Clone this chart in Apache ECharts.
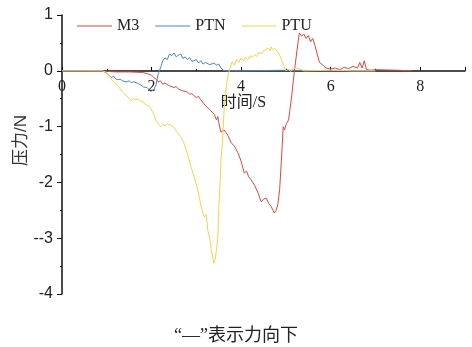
<!DOCTYPE html>
<html>
<head>
<meta charset="utf-8">
<script src="https://cdn.jsdelivr.net/npm/echarts@6/dist/echarts.min.js"></script>
<style>html,body{margin:0;padding:0;background:#fff}#c{width:472px;height:347px}</style>
</head>
<body>
<div id="c"></div>
<script>
var seriesNames = ['M3', 'PTN', 'PTU'];
var yTickLabels = ['-4', '--3', '-2', '-1', '0', '1'];
var xTickLabels = ['0', '2', '4', '6', '8'];

var m3T = [0, 0.5, 1.0, 1.2, 1.5, 1.8, 1.9, 2.0, 2.05, 2.1, 2.15, 2.2, 2.25, 2.3, 2.4, 2.5, 2.55, 2.6, 2.7, 2.8, 2.85, 2.9, 3.0, 3.05, 3.1, 3.2, 3.25, 3.3, 3.4, 3.45, 3.48, 3.5, 3.55, 3.62, 3.7, 3.78, 3.85, 3.93, 4.0, 4.07, 4.12, 4.17, 4.22, 4.3, 4.38, 4.45, 4.5, 4.56, 4.62, 4.67, 4.7, 4.74, 4.78, 4.82, 4.86, 4.9, 4.94, 4.97, 5.01, 5.06, 5.09, 5.13, 5.19, 5.23, 5.27, 5.3, 5.35, 5.4, 5.45, 5.5, 5.55, 5.6, 5.65, 5.7, 5.75, 5.8, 5.85, 5.9, 6.0, 6.1, 6.2, 6.3, 6.4, 6.5, 6.6, 6.65, 6.7, 6.75, 6.8, 6.9, 7.0, 7.5, 7.8];
var m3V = [0, 0, -0.01, -0.02, -0.02, -0.03, -0.05, -0.08, -0.12, -0.15, -0.2, -0.18, -0.24, -0.22, -0.27, -0.3, -0.28, -0.33, -0.36, -0.38, -0.42, -0.41, -0.48, -0.46, -0.52, -0.62, -0.66, -0.7, -0.78, -0.88, -0.82, -0.93, -1.1, -1.06, -1.15, -1.29, -1.35, -1.47, -1.62, -1.83, -1.8, -1.9, -1.95, -2.05, -2.19, -2.35, -2.3, -2.28, -2.38, -2.43, -2.48, -2.55, -2.5, -2.4, -2.13, -1.6, -1.0, -1.06, -0.95, -0.88, -0.7, -0.45, 0.0, 0.25, 0.5, 0.68, 0.62, 0.66, 0.58, 0.63, 0.52, 0.58, 0.45, 0.3, 0.15, 0.12, 0.08, 0.05, 0.03, 0.05, 0.02, 0.06, 0.04, 0.08, 0.05, 0.15, 0.05, 0.18, 0.02, 0.01, 0.02, 0.01, 0];

var ptnT = [0, 0.9, 1.0, 1.05, 1.1, 1.15, 1.23, 1.3, 1.35, 1.45, 1.5, 1.55, 1.6, 1.68, 1.75, 1.82, 1.9, 1.98, 2.05, 2.1, 2.15, 2.2, 2.25, 2.3, 2.35, 2.4, 2.45, 2.5, 2.55, 2.6, 2.65, 2.7, 2.75, 2.8, 2.85, 2.9, 3.0, 3.05, 3.1, 3.15, 3.2, 3.3, 3.4, 3.45, 3.5, 3.55, 3.6, 3.7, 4.0, 5.0, 6.0, 7.0];
var ptnV = [0, 0, -0.04, -0.08, -0.12, -0.1, -0.16, -0.15, -0.18, -0.2, -0.18, -0.21, -0.2, -0.22, -0.25, -0.29, -0.3, -0.37, -0.34, -0.25, -0.05, 0.05, 0.18, 0.23, 0.2, 0.3, 0.27, 0.32, 0.25, 0.28, 0.3, 0.22, 0.25, 0.2, 0.24, 0.17, 0.2, 0.14, 0.18, 0.12, 0.15, 0.11, 0.14, 0.1, 0.12, 0.05, 0.01, 0, 0, 0.01, 0, 0];

var ptuT = [0, 0.9, 1.0, 1.05, 1.1, 1.15, 1.2, 1.25, 1.3, 1.35, 1.4, 1.45, 1.5, 1.55, 1.6, 1.65, 1.7, 1.75, 1.8, 1.85, 1.9, 1.95, 2.0, 2.05, 2.09, 2.15, 2.2, 2.25, 2.3, 2.35, 2.43, 2.5, 2.58, 2.65, 2.72, 2.8, 2.88, 2.95, 3.03, 3.1, 3.15, 3.18, 3.22, 3.26, 3.3, 3.33, 3.37, 3.39, 3.42, 3.45, 3.48, 3.5, 3.53, 3.55, 3.58, 3.6, 3.62, 3.65, 3.7, 3.75, 3.8, 3.85, 3.9, 3.95, 4.0, 4.05, 4.1, 4.15, 4.2, 4.25, 4.3, 4.35, 4.4, 4.45, 4.5, 4.55, 4.6, 4.65, 4.67, 4.7, 4.75, 4.8, 4.85, 4.9, 4.95, 5.0, 5.05, 5.1, 5.2, 5.3, 5.4, 6.0, 6.5, 7.0];
var ptuV = [0, 0, -0.03, -0.08, -0.15, -0.2, -0.22, -0.28, -0.32, -0.38, -0.42, -0.45, -0.5, -0.53, -0.5, -0.52, -0.5, -0.55, -0.54, -0.6, -0.62, -0.64, -0.7, -0.78, -0.88, -0.95, -1.0, -0.96, -0.99, -0.95, -0.97, -1.02, -1.11, -1.18, -1.29, -1.48, -1.72, -1.9, -2.13, -2.4, -2.55, -2.62, -2.58, -2.88, -3.0, -3.2, -3.34, -3.45, -3.38, -3.2, -2.98, -2.5, -2.0, -1.6, -1.3, -1.06, -0.7, -0.4, -0.1, 0.05, 0.16, 0.1, 0.2, 0.15, 0.23, 0.18, 0.25, 0.2, 0.27, 0.24, 0.29, 0.26, 0.33, 0.3, 0.36, 0.38, 0.41, 0.36, 0.43, 0.38, 0.4, 0.35, 0.3, 0.2, 0.1, 0.0, 0.03, -0.01, 0.05, 0.04, 0.0, 0.01, 0, 0];

var colors = ['#e2443f', '#4a86c5', '#f6d24a'];

function zip(t, v) { return t.map(function (x, i) { return [x, v[i]]; }); }

var chart = echarts.init(document.getElementById('c'), null, { renderer: 'canvas' });
var serif = '"Liberation Serif", "Noto Sans CJK SC", serif';
chart.setOption({
  animation: false,
  color: colors,
  title: {
    text: '“—”表示力向下',
    left: 'center',
    bottom: -3,
    textStyle: { fontFamily: serif, fontSize: 18, fontWeight: 'normal', color: '#222' }
  },
  legend: {
    data: seriesNames,
    icon: 'rect',
    left: 72,
    top: 13,
    itemWidth: 35,
    itemHeight: 1,
    itemGap: 16,
    textStyle: { fontFamily: serif, fontSize: 16, color: '#222' }
  },
  grid: { left: 62, right: 7, top: 15, bottom: 53, containLabel: false },
  xAxis: {
    type: 'value',
    min: 0, max: 9, interval: 2,
    position: 'bottom',
    offset: -223.2,
    name: '时间/S',
    nameLocation: 'middle',
    nameMoveOverlap: false,
    nameGap: 24,
    nameTextStyle: { fontFamily: serif, fontSize: 16, color: '#222', padding: [0, 40, 0, 0] },
    axisLine: { onZero: false, lineStyle: { color: '#111', width: 1.5 } },
    axisTick: { inside: true, length: 4, lineStyle: { color: '#111', width: 1 } },
    minorTick: { show: true, splitNumber: 2, length: 2, lineStyle: { color: '#111' } },
    splitLine: { show: false },
    axisLabel: {
      margin: 8, fontFamily: serif, fontSize: 16, color: '#222', showMaxLabel: false,
      formatter: function (v) { var i = xTickLabels.indexOf(String(v)); return i >= 0 ? xTickLabels[i] : ''; }
    }
  },
  yAxis: {
    type: 'value',
    min: -4, max: 1, interval: 1,
    name: '压力/N',
    nameLocation: 'middle',
    nameMoveOverlap: false,
    nameGap: 32,
    nameTextStyle: { fontFamily: '"Liberation Sans", "Noto Sans CJK SC", sans-serif', fontSize: 17, color: '#333', padding: [0, 0, 0, 28] },
    axisLine: { show: true, onZero: false, lineStyle: { color: '#111', width: 1.5 } },
    axisTick: { show: true, inside: false, length: 5, lineStyle: { color: '#111', width: 1 } },
    minorTick: { show: true, splitNumber: 2, length: 2, lineStyle: { color: '#111' } },
    splitLine: { show: false },
    axisLabel: {
      margin: 9, fontFamily: '"Liberation Sans", sans-serif', fontSize: 16, color: '#222',
      formatter: function (v) { return yTickLabels[Math.round(v) + 4]; }
    }
  },
  series: [
    { name: seriesNames[0], type: 'line', symbol: 'none', data: zip(m3T, m3V), lineStyle: { width: 1 } },
    { name: seriesNames[1], type: 'line', symbol: 'none', data: zip(ptnT, ptnV), lineStyle: { width: 1 } },
    { name: seriesNames[2], type: 'line', symbol: 'none', data: zip(ptuT, ptuV), lineStyle: { width: 1 } }
  ]
});
</script>
</body>
</html>
